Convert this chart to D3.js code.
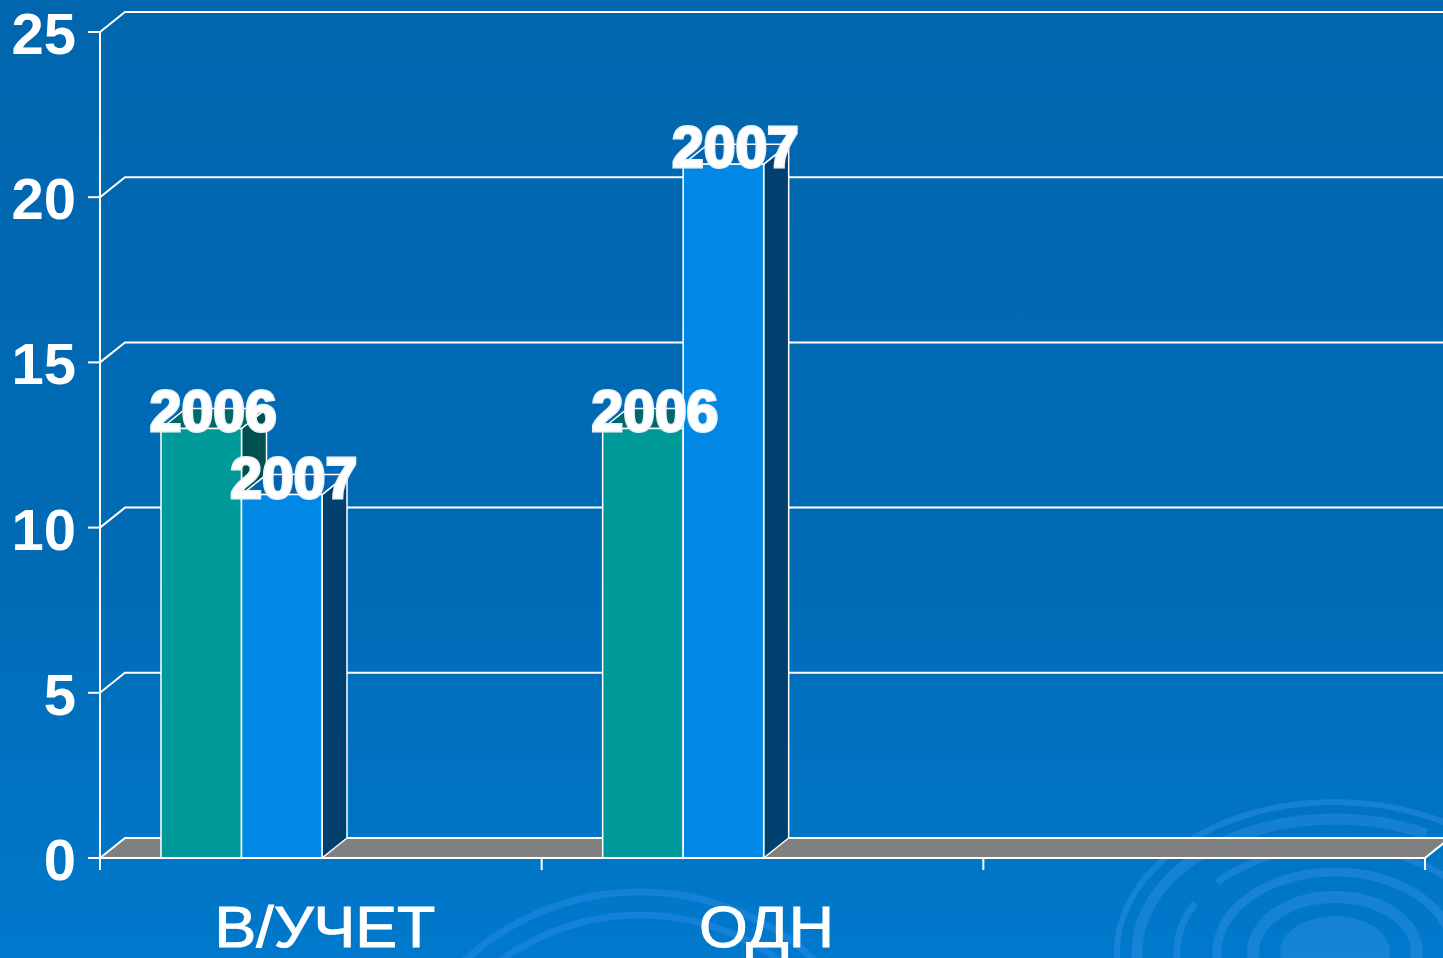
<!DOCTYPE html>
<html>
<head>
<meta charset="utf-8">
<script src="https://cdn.jsdelivr.net/npm/d3@7"></script>
<style>
  html, body { margin: 0; padding: 0; overflow: hidden; }
  svg { display: block; }
</style>
</head>
<body>
<script>
// data
var categories = ['В/УЧЕТ', 'ОДН', '']
var years = ['2006', '2007']
var values2006 = [13, 13, null]
var values2007 = [11, 21, null]
var yTicks = [0, 5, 10, 15, 20, 25]

var W = 1443, H = 958
var depthX = 25, depthY = -20
var colors = {
  '2006': {front: '#009999', side: '#005050', top: '#006868'},
  '2007': {front: '#0088e4', side: '#003f6e', top: '#0064b0'}
}

var svg = d3.select('body').append('svg')
  .attr('width', W)
  .attr('height', H)

var defs = svg.append('defs')
var grad = defs.append('linearGradient')
  .attr('id', 'bg')
  .attr('x1', 0).attr('y1', 0).attr('x2', 0).attr('y2', 1)
grad.append('stop').attr('offset', '0%').attr('stop-color', '#0066ae')
grad.append('stop').attr('offset', '60%').attr('stop-color', '#006bb6')
grad.append('stop').attr('offset', '100%').attr('stop-color', '#0079cc')

svg.append('rect')
  .attr('width', W).attr('height', H)
  .attr('fill', 'url(#bg)')

// ripples in the background (decoration)
var ripples = [
  {rx: 218, ry: 150, w: 6, o: 0.3, dash: null},
  {rx: 198, ry: 133, w: 11, o: 0.28, dash: '420 40'},
  {rx: 158, ry: 105, w: 7, o: 0.3, dash: '60 30 300 20'},
  {rx: 118, ry: 80, w: 9, o: 0.3, dash: null},
  {rx: 82, ry: 55, w: 12, o: 0.28, dash: null}
]
var rg = svg.append('g').attr('transform', 'translate(1335,952)')
rg.append('ellipse').attr('rx', 55).attr('ry', 36).attr('fill', '#3a98ee').attr('opacity', 0.35)
rg.selectAll('ellipse.rip')
  .data(ripples)
  .enter()
  .append('ellipse')
  .attr('class', 'rip')
  .attr('rx', function(d){return d.rx})
  .attr('ry', function(d){return d.ry})
  .attr('fill', 'none')
  .attr('stroke', '#4aa0f5')
  .attr('stroke-width', function(d){return d.w})
  .attr('opacity', function(d){return d.o})
  .attr('stroke-dasharray', function(d){return d.dash})

var lg = svg.append('g').attr('transform', 'translate(640,1150)')
lg.selectAll('circle')
  .data([235, 258])
  .enter()
  .append('circle')
  .attr('r', function(d){return d})
  .attr('fill', 'none')
  .attr('stroke', '#2d8fe8')
  .attr('stroke-width', 7)
  .attr('opacity', 0.45)

var y = d3.scaleLinear().domain([0, 25]).range([858, 32])
var x = d3.scaleBand().domain(categories).range([100, 1425])
var xIn = d3.scaleBand().domain(years).range([61, 222])

var x0 = 100, yBase = y(0)

// gridlines on the back wall
svg.selectAll('path.grid')
  .data(yTicks.slice(1))
  .enter()
  .append('path')
  .attr('class', 'grid')
  .attr('d', function(d){
    return 'M' + x0 + ',' + y(d) + 'L' + (x0 + depthX) + ',' + (y(d) + depthY) + 'L' + W + ',' + (y(d) + depthY)
  })
  .attr('fill', 'none')
  .attr('stroke', 'white')
  .attr('stroke-width', 2)

// floor
svg.append('path')
  .attr('d', 'M' + x0 + ',' + yBase + 'L' + (x0 + depthX) + ',' + (yBase + depthY) +
    'L' + (1425 + depthX) + ',' + (yBase + depthY) + 'L1425,' + yBase + 'Z')
  .attr('fill', '#808080')
  .attr('stroke', 'white')
  .attr('stroke-width', 2)

// bars
var bars = []
categories.forEach(function(c, i){
  [values2006[i], values2007[i]].forEach(function(v, j){
    if (v != null) bars.push({cat: c, year: years[j], value: v})
  })
})

var bg = svg.selectAll('g.bar')
  .data(bars)
  .enter()
  .append('g')
  .attr('class', 'bar')

function bx(d){ return x(d.cat) + xIn(d.year) }

bg.append('path')
  .attr('d', function(d){
    var a = bx(d) + xIn.bandwidth(), t = y(d.value)
    return 'M' + a + ',' + t + 'L' + (a + depthX) + ',' + (t + depthY) +
      'L' + (a + depthX) + ',' + (yBase + depthY) + 'L' + a + ',' + yBase + 'Z'
  })
  .attr('fill', function(d){return colors[d.year].side})
  .attr('stroke', 'white').attr('stroke-width', 1.5)

bg.append('path')
  .attr('d', function(d){
    var a = bx(d), b = a + xIn.bandwidth(), t = y(d.value)
    return 'M' + a + ',' + t + 'L' + (a + depthX) + ',' + (t + depthY) +
      'L' + (b + depthX) + ',' + (t + depthY) + 'L' + b + ',' + t + 'Z'
  })
  .attr('fill', function(d){return colors[d.year].top})
  .attr('stroke', 'white').attr('stroke-width', 1.5)

bg.append('rect')
  .attr('x', bx)
  .attr('y', function(d){return y(d.value)})
  .attr('width', xIn.bandwidth())
  .attr('height', function(d){return yBase - y(d.value)})
  .attr('fill', function(d){return colors[d.year].front})
  .attr('stroke', 'white').attr('stroke-width', 1.5)

// axes
svg.append('line')
  .attr('x1', x0).attr('x2', x0)
  .attr('y1', y(25)).attr('y2', yBase + 12)
  .attr('stroke', 'white').attr('stroke-width', 2)
svg.append('line')
  .attr('x1', x0).attr('x2', 1425)
  .attr('y1', yBase).attr('y2', yBase)
  .attr('stroke', 'white').attr('stroke-width', 2)

svg.selectAll('line.ytick')
  .data(yTicks)
  .enter()
  .append('line')
  .attr('x1', 88).attr('x2', x0)
  .attr('y1', function(d){return y(d)}).attr('y2', function(d){return y(d)})
  .attr('stroke', 'white').attr('stroke-width', 2)

svg.selectAll('text.ylab')
  .data(yTicks)
  .enter()
  .append('text')
  .attr('x', 76)
  .attr('y', function(d){return y(d) + 22})
  .attr('text-anchor', 'end')
  .attr('font-family', 'Liberation Sans, Arial, sans-serif')
  .attr('font-weight', 'bold')
  .attr('font-size', 58)
  .attr('fill', 'white')
  .text(function(d){return d})

var xTickPos = categories.map(function(c){return x(c)}).concat([1425])
svg.selectAll('line.xtick')
  .data(xTickPos)
  .enter()
  .append('line')
  .attr('x1', function(d){return d}).attr('x2', function(d){return d})
  .attr('y1', yBase).attr('y2', yBase + 12)
  .attr('stroke', 'white').attr('stroke-width', 2)

svg.selectAll('text.xlab')
  .data(categories)
  .enter()
  .append('text')
  .attr('transform', function(d){return 'translate(' + (x(d) + x.bandwidth() / 2 + 4) + ',947) scale(1.08,1)'})
  .attr('text-anchor', 'middle')
  .attr('font-family', 'Liberation Sans, Arial, sans-serif')
  .attr('font-size', 58)
  .attr('fill', 'white')
  .attr('stroke', 'white')
  .attr('stroke-width', 1)
  .text(function(d){return d})

// data labels
svg.selectAll('text.vlab')
  .data(bars)
  .enter()
  .append('text')
  .attr('x', function(d){return bx(d) + xIn.bandwidth() / 2 + 12})
  .attr('y', function(d){return y(d.value) + 3})
  .attr('text-anchor', 'middle')
  .attr('font-family', 'Liberation Sans, Arial, sans-serif')
  .attr('font-weight', 'bold')
  .attr('font-size', 57)
  .attr('fill', 'white')
  .attr('stroke', '#e8f0f8')
  .attr('stroke-width', 3)
  .attr('paint-order', 'stroke')
  .text(function(d){return d.year})
</script>
</body>
</html>
